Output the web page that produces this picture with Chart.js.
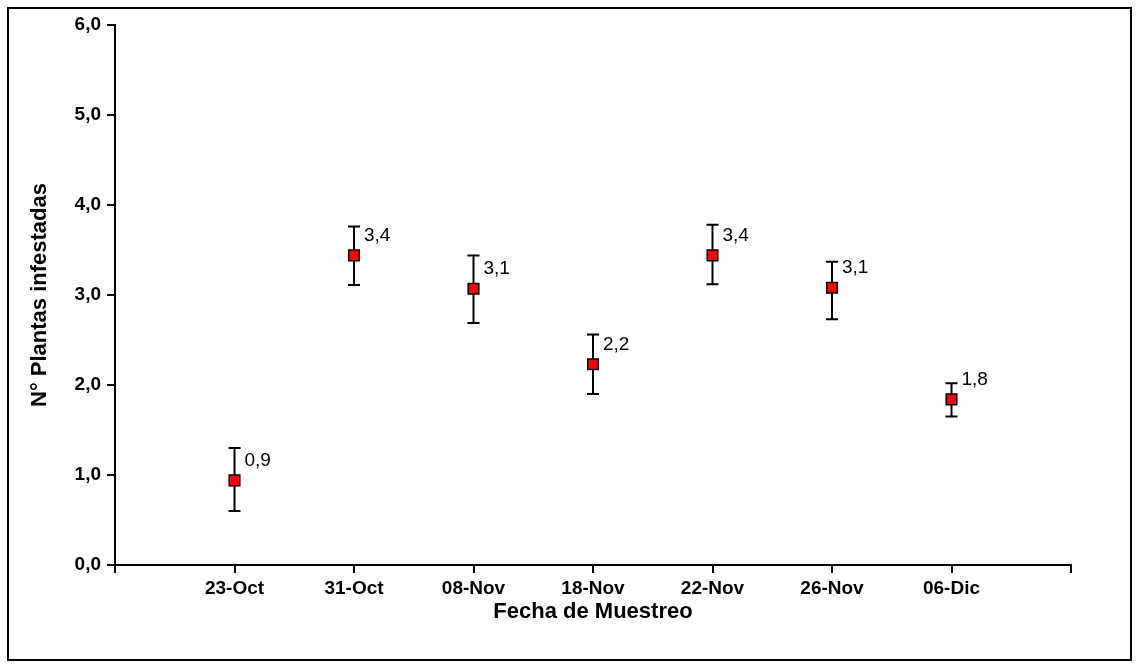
<!DOCTYPE html>
<html>
<head>
<meta charset="utf-8">
<script src="https://cdn.jsdelivr.net/npm/chart.js@4.4.0/dist/chart.umd.min.js"></script>
<style>
  html, body { margin: 0; padding: 0; background: #fff; }
  canvas { display: block; }
</style>
</head>
<body>
<canvas id="grafico" width="1139" height="667"></canvas>
<script>
// Fechas de muestreo
const fechas = ['23-Oct', '31-Oct', '08-Nov', '18-Nov', '22-Nov', '26-Nov', '06-Dic'];
// Media de plantas infestadas por fecha
const medias = [0.94, 3.44, 3.07, 2.23, 3.44, 3.08, 1.84];
// Extremos de las barras de error
const limiteInferior = [0.60, 3.11, 2.69, 1.90, 3.12, 2.73, 1.65];
const limiteSuperior = [1.30, 3.76, 3.44, 2.56, 3.78, 3.37, 2.02];
// Marcas del eje Y
const marcasY = [0, 1, 2, 3, 4, 5, 6];

const coma = v => v.toFixed(1).replace('.', ',');

// Barras de error con remate horizontal
const barrasError = {
  id: 'barrasError',
  beforeDatasetsDraw(chart) {
    const { ctx, scales: { x, y } } = chart;
    ctx.save();
    ctx.strokeStyle = '#000';
    ctx.lineWidth = 2;
    fechas.forEach((f, i) => {
      const px = x.getPixelForValue(i + 1);
      const yLo = y.getPixelForValue(limiteInferior[i]);
      const yHi = y.getPixelForValue(limiteSuperior[i]);
      ctx.beginPath();
      ctx.moveTo(px, yLo); ctx.lineTo(px, yHi);
      ctx.moveTo(px - 6, yLo); ctx.lineTo(px + 6, yLo);
      ctx.moveTo(px - 6, yHi); ctx.lineTo(px + 6, yHi);
      ctx.stroke();
    });
    ctx.restore();
  }
};

// Etiquetas con el valor de cada media
const etiquetasValor = {
  id: 'etiquetasValor',
  afterDatasetsDraw(chart) {
    const { ctx } = chart;
    const meta = chart.getDatasetMeta(0);
    ctx.save();
    ctx.fillStyle = '#000';
    ctx.font = '19px "Liberation Sans", Arial, sans-serif';
    ctx.textAlign = 'left';
    ctx.textBaseline = 'middle';
    meta.data.forEach((pt, i) => {
      ctx.fillText(coma(medias[i]), pt.x + 10, pt.y - 20);
    });
    ctx.restore();
  }
};

// Marco exterior
const marco = {
  id: 'marco',
  afterDraw(chart) {
    const { ctx } = chart;
    ctx.save();
    ctx.strokeStyle = '#000';
    ctx.lineWidth = 2;
    ctx.strokeRect(8, 8, 1123, 652);
    ctx.restore();
  }
};

const fuenteSans = '"Liberation Sans", Arial, sans-serif';

new Chart(document.getElementById('grafico'), {
  type: 'scatter',
  data: {
    datasets: [{
      data: medias.map((m, i) => ({ x: i + 1, y: m })),
      pointStyle: 'rect',
      pointRadius: 7.5,
      pointHoverRadius: 7.5,
      backgroundColor: '#ff0000',
      borderColor: '#000',
      borderWidth: 1.5
    }]
  },
  plugins: [barrasError, etiquetasValor, marco],
  options: {
    responsive: false,
    animation: false,
    events: [],
    layout: { padding: { top: 25, right: 68, left: 0, bottom: 0 } },
    plugins: { legend: { display: false }, tooltip: { enabled: false } },
    scales: {
      x: {
        type: 'linear',
        min: 0,
        max: fechas.length + 1,
        afterBuildTicks: s => { s.ticks = Array.from({ length: fechas.length + 2 }, (_, i) => ({ value: i })); },
        afterFit: s => { s.height = 102; },
        ticks: {
          autoSkip: false,
          maxRotation: 0,
          padding: 4,
          color: '#000',
          font: { family: fuenteSans, size: 19, weight: 'bold' },
          callback: v => fechas[v - 1] || ''
        },
        grid: { drawOnChartArea: false, drawTicks: true, tickLength: 8, color: '#000', lineWidth: 2 },
        border: { display: true, color: '#000', width: 2 },
        title: {
          display: true,
          text: 'Fecha de Muestreo',
          color: '#000',
          font: { family: fuenteSans, size: 22, weight: 'bold' },
          padding: { top: 0, bottom: 42 }
        }
      },
      y: {
        min: 0,
        max: 6,
        afterBuildTicks: s => { s.ticks = marcasY.map(v => ({ value: v })); },
        afterFit: s => { s.width = 115; },
        ticks: {
          padding: 6,
          color: '#000',
          font: { family: fuenteSans, size: 19, weight: 'bold' },
          callback: v => coma(v)
        },
        grid: { drawOnChartArea: false, drawTicks: true, tickLength: 8, color: '#000', lineWidth: 2 },
        border: { display: true, color: '#000', width: 2 },
        title: {
          display: true,
          text: 'N° Plantas infestadas',
          color: '#000',
          font: { family: fuenteSans, size: 22, weight: 'bold' },
          padding: { top: 27, bottom: 0 }
        }
      }
    }
  }
});
</script>
</body>
</html>
